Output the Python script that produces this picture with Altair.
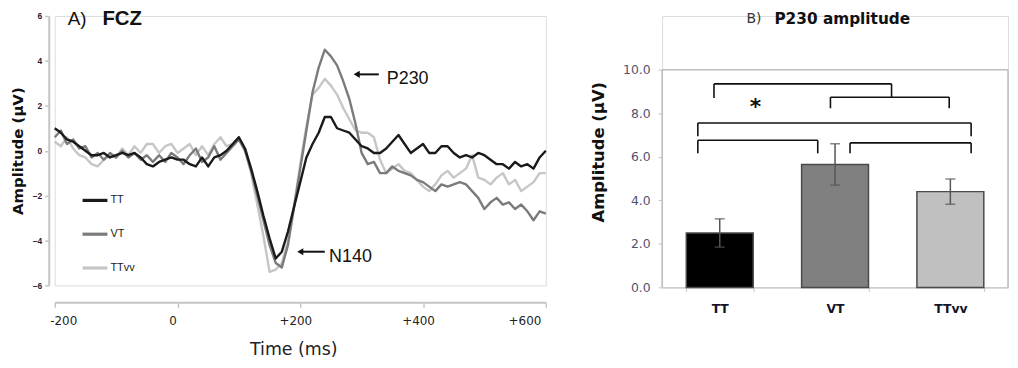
import altair as alt
import pandas as pd

# ---------------- Panel A data: ERP waveforms at FCZ ----------------
conditions = ["TT", "VT", "TTvv"]
line_colors = ["#1a1a1a", "#7b7b7b", "#c6c6c6"]
time_ms = list(range(-200, 601, 10))

tt_amp = [1.0, 0.8, 0.5, 0.4, 0.2, 0.0, -0.2, -0.2, -0.1, -0.3,
          -0.2, -0.1, -0.2, -0.1, -0.3, -0.6, -0.7, -0.5, -0.4, -0.3,
          -0.4, -0.4, -0.6, -0.7, -0.3, -0.7, -0.3, -0.2, 0.0, 0.3,
          0.6, 0.1, -0.8, -1.8, -2.9, -3.9, -4.8, -4.5, -3.6, -2.5,
          -1.4, -0.3, 0.3, 0.8, 1.5, 1.5, 1.0, 0.9, 0.8, 0.5,
          0.2, 0.1, -0.1, -0.1, 0.1, 0.4, 0.7, 0.3, -0.1, 0.1,
          0.3, -0.1, -0.1, 0.2, 0.2, -0.1, -0.3, -0.2, -0.3, -0.1,
          -0.2, -0.4, -0.6, -0.6, -0.8, -0.5, -0.7, -0.6, -0.8, -0.3,
          0.0]
vt_amp = [0.6, 0.9, 0.3, 0.5, 0.1, 0.2, -0.3, -0.1, -0.4, -0.1,
          -0.3, 0.0, -0.3, -0.1, -0.4, -0.2, -0.5, -0.2, -0.5, -0.1,
          -0.3, -0.6, -0.2, 0.1, -0.5, -0.3, 0.2, -0.4, -0.1, 0.2,
          0.5, 0.0, -0.9, -2.0, -3.1, -4.2, -5.0, -5.2, -4.2, -2.5,
          -0.8, 0.9, 2.6, 3.7, 4.5, 4.2, 3.8, 3.1, 2.3, 1.2,
          -0.1, -0.6, -0.5, -1.0, -1.0, -0.7, -0.9, -1.0, -1.1, -1.3,
          -1.4, -1.6, -1.8, -1.5, -1.6, -1.5, -1.4, -1.5, -1.8, -2.1,
          -2.6, -2.3, -2.1, -2.4, -2.3, -2.6, -2.4, -2.7, -3.1, -2.7,
          -2.8]
ttvv_amp = [0.4, 0.2, 0.6, 0.1, -0.2, -0.3, -0.6, -0.7, -0.4, -0.2,
            -0.3, 0.1, -0.2, 0.2, -0.1, 0.3, 0.3, -0.1, 0.2, 0.3,
            -0.1, 0.1, 0.3, -0.2, 0.2, -0.2, 0.3, 0.6, 0.2, 0.3,
            0.6, 0.0, -1.0, -2.4, -3.8, -5.4, -5.3, -5.0, -4.0, -2.4,
            -0.6, 1.1, 2.5, 2.8, 3.2, 2.9, 2.5, 1.9, 1.4, 0.9,
            0.8, 0.8, 0.6, -0.4, -1.0, -0.8, -0.6, -0.9, -1.0, -1.3,
            -1.6, -1.8, -1.5, -1.1, -0.9, -1.2, -1.0, -0.8, -0.2, -1.2,
            -1.3, -1.5, -1.2, -1.0, -1.5, -1.3, -1.8, -1.6, -1.4, -1.0,
            -1.0]

x_ticks = [-200, 0, 200, 400, 600]
y_ticks_left = [-6, -4, -2, 0, 2, 4, 6]

ann_labels = ["P230", "N140"]
ann_label_t = [341, 247]
ann_label_v = [3.2, -4.72]
arrow_head_t = [292, 200]
arrow_tail_t = [328, 240]
arrow_v = [3.4, -4.5]

panel_a_parts = ["A)", "FCZ"]

# ---------------- Panel B data: P230 amplitude ----------------
bar_means = [2.5, 5.65, 4.4]
bar_errors = [0.65, 0.95, 0.58]
bar_colors = ["#000000", "#808080", "#c0c0c0"]
y_ticks_right = [0, 2, 4, 6, 8, 10]

bracket_left = [0.45, 1.46, 0.31, 0.31, 1.63]
bracket_right = [1.99, 2.49, 2.68, 1.35, 2.68]
bracket_top = [9.35, 8.74, 7.55, 6.76, 6.64]
bracket_left_end = [8.7, 8.23, 6.94, 6.16, 6.16]
bracket_right_end = [8.74, 8.23, 6.94, 6.16, 6.16]

star_x = [0.81]
star_y = [8.3]
panel_b_parts = ["B)", "P230 amplitude"]

AXIS_GRAY = "#c4c4c4"

# ---------------- Panel A chart ----------------
rows = []
for cond, series in [("TTvv", ttvv_amp), ("VT", vt_amp), ("TT", tt_amp)]:
    for t, v in zip(time_ms, series):
        rows.append({"time": t, "amp": v, "cond": cond})
erp_df = pd.DataFrame(rows)

XT = "Time (ms)"
YT = "Amplitude (µV)"

x_left = alt.X(
    "time:Q",
    title=XT,
    scale=alt.Scale(domain=[-200, 600], nice=False, zero=False),
    axis=alt.Axis(
        values=x_ticks,
        labelExpr="datum.value > 0 ? '+' + datum.value : '' + datum.value",
        offset=17, grid=False,
        domainColor=AXIS_GRAY, domainWidth=2, tickColor=AXIS_GRAY,
        tickWidth=1.5, tickSize=5,
        labelPadding=8, labelOffset=-5, labelFont="DejaVu Sans", labelFontSize=12,
        labelColor="#222222",
        titleFont="DejaVu Sans", titleFontSize=17.5, titleFontWeight="normal",
        titleColor="#222222", titlePadding=15, titleX=240,
    ),
)
y_left = alt.Y(
    "amp:Q",
    title=YT,
    scale=alt.Scale(domain=[-6, 6], nice=False),
    axis=alt.Axis(
        values=y_ticks_left, offset=6, grid=False,
        domainColor=AXIS_GRAY, domainWidth=2, tickColor=AXIS_GRAY,
        tickWidth=1.5, tickSize=4,
        labelPadding=3, labelFont="Liberation Sans", labelFontSize=8.5,
        labelFontWeight="bold", labelColor="#1f2340",
        titleFont="DejaVu Sans", titleFontSize=15, titleFontWeight="bold",
        titleColor="#111111", titlePadding=7,
    ),
)

lines = alt.Chart(erp_df).mark_line(strokeWidth=2.4, strokeJoin="round").encode(
    x=x_left,
    y=y_left,
    color=alt.Color(
        "cond:N",
        scale=alt.Scale(domain=conditions, range=line_colors),
        legend=alt.Legend(
            title=None, orient="none", legendX=26, legendY=171,
            direction="vertical", symbolType="stroke", symbolSize=625,
            symbolStrokeWidth=3.2, labelFont="Liberation Sans", labelFontSize=11,
            labelFontWeight="normal", labelColor="#1a1a1a", rowPadding=13,
            labelOffset=1, padding=0,
        ),
    ),
)

ann_df = pd.DataFrame({
    "label": ann_labels, "lt": ann_label_t, "lv": ann_label_v,
    "ah": arrow_head_t, "at": arrow_tail_t, "av": arrow_v,
})
shafts = alt.Chart(ann_df).mark_rule(strokeWidth=2, color="#111111").encode(
    x=alt.X("ah:Q", title=XT), x2="at:Q", y=alt.Y("av:Q", title=YT)
)
heads = alt.Chart(ann_df).mark_point(
    shape="triangle-left", filled=True, size=50, color="#111111", opacity=1
).encode(x=alt.X("ah:Q", title=XT), y=alt.Y("av:Q", title=YT))
ann_text = alt.Chart(ann_df).mark_text(
    align="left", baseline="middle", font="Liberation Sans", fontSize=18,
    color="#111111"
).encode(x=alt.X("lt:Q", title=XT), y=alt.Y("lv:Q", title=YT), text="label:N")

title_a1 = alt.Chart(pd.DataFrame({"t": [panel_a_parts[0]]})).mark_text(
    x=13, y=3.5, align="left", baseline="middle", font="Liberation Sans",
    fontSize=19, color="#111111"
).encode(text="t:N")
title_a2 = alt.Chart(pd.DataFrame({"t": [panel_a_parts[1]]})).mark_text(
    x=48, y=3.5, align="left", baseline="middle", font="Liberation Sans",
    fontSize=20.5, fontWeight="bold", color="#111111"
).encode(text="t:N")

left = alt.layer(lines, shafts, heads, ann_text, title_a1, title_a2).properties(
    width=494, height=271
)

# ---------------- Panel B chart ----------------
bar_df = pd.DataFrame({
    "group": conditions,
    "mean": bar_means,
    "lo": [m - e for m, e in zip(bar_means, bar_errors)],
    "hi": [m + e for m, e in zip(bar_means, bar_errors)],
})

y_dom = [0, 12.47]
x_band = alt.X(
    "group:N", sort=conditions, title=None,
    scale=alt.Scale(paddingInner=0.42, paddingOuter=0.21),
    axis=alt.Axis(
        labelAngle=0, tickBand="extent", domainColor=AXIS_GRAY, domainWidth=1.5,
        tickColor=AXIS_GRAY, tickSize=4, labelPadding=11,
        labelFont="DejaVu Sans", labelFontSize=12.5, labelFontWeight="bold",
        labelColor="#14142a",
    ),
)
y_bar = alt.Y(
    "mean:Q", title=YT,
    scale=alt.Scale(domain=y_dom, nice=False),
    axis=alt.Axis(
        values=y_ticks_right, format=".1f", grid=False, domain=False,
        tickColor=AXIS_GRAY, tickSize=4, labelPadding=8,
        labelFont="DejaVu Sans", labelFontSize=12.5, labelColor="#4f5270",
        titleFont="DejaVu Sans", titleFontSize=16.5, titleFontWeight="bold",
        titleColor="#111111", titlePadding=16,
    ),
)

bars = alt.Chart(bar_df).mark_bar(stroke="#4a4a4a", strokeWidth=1.5).encode(
    x=x_band, y=y_bar,
    color=alt.Color("group:N", scale=alt.Scale(domain=conditions, range=bar_colors), legend=None),
)
err = alt.Chart(bar_df).mark_rule(color="#555555", strokeWidth=1.5).encode(
    x=alt.X("group:N", sort=conditions, title=None),
    y=alt.Y("lo:Q", title=YT), y2="hi:Q",
)
caps = alt.Chart(bar_df).transform_fold(["lo", "hi"], as_=["end", "val"]).mark_tick(
    color="#555555", thickness=1.5, size=10
).encode(x=alt.X("group:N", sort=conditions, title=None), y=alt.Y("val:Q", title=YT))

bar_layer = alt.layer(bars, err, caps)

seg_rows = []
for l, r, t, le, re in zip(bracket_left, bracket_right, bracket_top,
                           bracket_left_end, bracket_right_end):
    seg_rows.append({"x1": l, "x2": r, "y1": t, "y2": t})
    seg_rows.append({"x1": l, "x2": l, "y1": t, "y2": le})
    seg_rows.append({"x1": r, "x2": r, "y1": t, "y2": re})
seg_df = pd.DataFrame(seg_rows)

qx = alt.Scale(domain=[0, 3], nice=False, zero=False)
brackets = alt.Chart(seg_df).mark_rule(color="#111111", strokeWidth=1.6).encode(
    x=alt.X("x1:Q", scale=qx, axis=None), x2="x2:Q",
    y=alt.Y("y1:Q", title=YT), y2="y2:Q",
)
frame_df = pd.DataFrame({
    "x1": [0, 0, 3], "x2": [3, 0, 3], "y1": [10, 0, 0], "y2": [10, 10, 10],
})
frame = alt.Chart(frame_df).mark_rule(color="#bdbdbd", strokeWidth=1.5).encode(
    x=alt.X("x1:Q", scale=qx, axis=None), x2="x2:Q",
    y=alt.Y("y1:Q", title=YT), y2="y2:Q",
)
star = alt.Chart(pd.DataFrame({"sx": star_x, "sy": star_y, "s": ["*"]})).mark_text(
    font="DejaVu Sans", fontSize=22, fontWeight="bold", baseline="middle",
    color="#111111"
).encode(x=alt.X("sx:Q", scale=qx, axis=None), y=alt.Y("sy:Q", title=YT), text="s:N")

title_b1 = alt.Chart(pd.DataFrame({"t": [panel_b_parts[0]]})).mark_text(
    x=85, y=3, align="left", baseline="middle", font="DejaVu Sans",
    fontSize=14, color="#333333"
).encode(text="t:N")
title_b2 = alt.Chart(pd.DataFrame({"t": [panel_b_parts[1]]})).mark_text(
    x=113, y=3, align="left", baseline="middle", font="DejaVu Sans",
    fontSize=15.4, fontWeight="bold", color="#111111"
).encode(text="t:N")

mark_layer = alt.layer(frame, brackets, star)

right = alt.layer(bar_layer, mark_layer, title_b1, title_b2).resolve_scale(
    x="independent"
).properties(width=348, height=273)

chart = alt.hconcat(left, right, spacing=42).resolve_scale(
    x="independent", y="independent", color="independent"
).properties(
    padding={"left": 1, "top": 0, "right": 0, "bottom": 0}
).configure_view(stroke=None).configure(font="Liberation Sans")

chart.save("out.html", embed_options={"renderer": "svg", "actions": False})
